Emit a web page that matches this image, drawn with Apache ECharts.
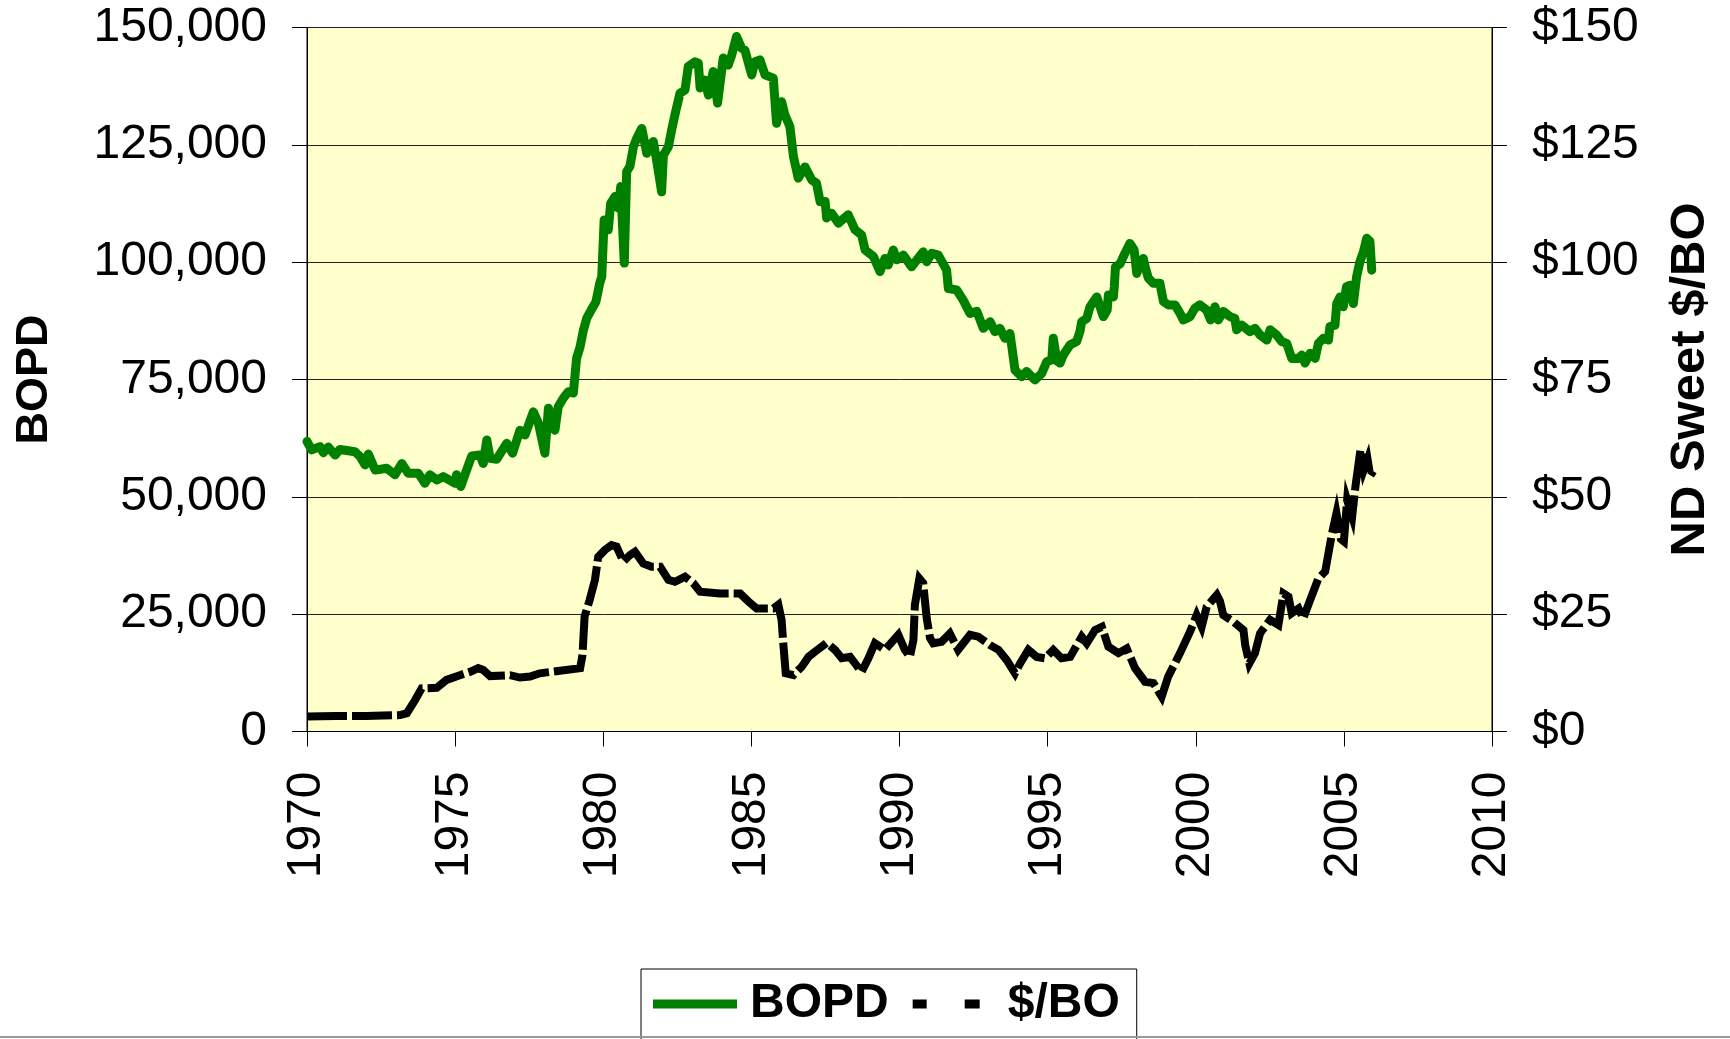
<!DOCTYPE html>
<html>
<head>
<meta charset="utf-8">
<script src="https://cdn.jsdelivr.net/npm/echarts@6/dist/echarts.min.js"></script>
<style>
html,body{margin:0;padding:0;background:#fff;}
#chart{width:1730px;height:1039px;}
</style>
</head>
<body>
<div id="chart"></div>
<script>
// ---- Data ----
var xTicks = [1970, 1975, 1980, 1985, 1990, 1995, 2000, 2005, 2010];

var bopdYears = [1970.00,1970.16,1970.44,1970.55,1970.72,1970.95,1971.11,1971.62,1971.79,1971.96,1972.07,1972.30,1972.69,1972.97,1973.20,1973.42,1973.76,1973.98,1974.15,1974.38,1974.60,1975.00,1975.05,1975.19,1975.33,1975.56,1975.84,1975.95,1976.07,1976.18,1976.40,1976.74,1976.94,1977.19,1977.36,1977.64,1977.81,1978.03,1978.15,1978.37,1978.48,1978.65,1978.82,1978.99,1979.10,1979.22,1979.33,1979.44,1979.61,1979.75,1979.88,1979.95,1980.03,1980.17,1980.25,1980.40,1980.51,1980.59,1980.71,1980.79,1980.90,1981.02,1981.13,1981.30,1981.47,1981.69,1981.80,1981.97,1982.03,1982.20,1982.31,1982.42,1982.59,1982.76,1982.87,1983.10,1983.21,1983.27,1983.43,1983.55,1983.71,1983.86,1984.05,1984.22,1984.34,1984.50,1984.67,1984.78,1985.01,1985.12,1985.29,1985.46,1985.74,1985.85,1986.02,1986.13,1986.30,1986.42,1986.58,1986.81,1987.04,1987.20,1987.32,1987.49,1987.54,1987.71,1987.94,1988.27,1988.50,1988.72,1988.84,1989.12,1989.34,1989.51,1989.62,1989.79,1989.91,1990.13,1990.41,1990.80,1990.92,1991.09,1991.31,1991.59,1991.65,1991.93,1992.15,1992.38,1992.61,1992.83,1993.06,1993.22,1993.39,1993.56,1993.73,1993.90,1994.12,1994.29,1994.57,1994.80,1994.97,1995.14,1995.19,1995.31,1995.42,1995.53,1995.76,1995.98,1996.09,1996.15,1996.32,1996.43,1996.66,1996.77,1996.88,1997.01,1997.05,1997.22,1997.25,1997.29,1997.44,1997.61,1997.78,1997.92,1998.01,1998.12,1998.23,1998.29,1998.40,1998.57,1998.79,1998.91,1999.07,1999.30,1999.47,1999.58,1999.81,1999.97,2000.14,2000.37,2000.50,2000.65,2000.76,2000.93,2001.16,2001.32,2001.38,2001.55,2001.83,2002.00,2002.17,2002.40,2002.51,2002.73,2002.90,2003.07,2003.24,2003.47,2003.58,2003.69,2003.86,2004.03,2004.14,2004.31,2004.48,2004.53,2004.70,2004.76,2004.87,2004.98,2005.09,2005.21,2005.32,2005.43,2005.54,2005.66,2005.77,2005.88,2005.94];
var bopdValues = [61800,60000,60700,59400,60600,58900,60100,59600,58600,56800,59100,55700,56100,54700,57100,55000,55000,52900,54700,53600,54300,52900,54700,52200,54700,58700,58900,57100,62100,58200,58000,61400,59300,64200,63200,68100,65700,59300,68900,64200,69200,71000,72400,72100,79500,82000,85500,88000,90000,91500,95500,96900,109000,106900,112500,114000,111500,116100,99800,119300,120400,124600,126400,128500,123200,125700,121800,115000,122800,124600,128200,131400,136000,136700,141700,142700,142400,137100,138800,135600,140600,133900,143500,142000,144200,148100,145600,145200,139900,142700,143100,139900,139200,129600,134200,131400,128900,122500,117900,120300,117500,116800,112900,112900,109400,110400,108300,110100,106900,105800,102600,101200,98000,100800,99400,102600,100500,101500,99000,102200,100100,101900,101500,98300,94400,94100,91900,89100,89500,85900,87300,85200,85900,83800,84800,77000,75600,76700,74900,76300,78800,79200,83800,79000,78500,80200,82400,83100,85200,87300,88000,90500,92600,90500,88400,89800,93000,92600,94800,99000,99600,101900,104000,102600,97600,99800,100800,99000,96600,95500,95500,91600,90900,90900,89100,87700,88400,90200,90900,89800,87700,90500,87700,89500,88400,88000,85600,86600,85200,85900,84500,83400,85600,84500,83100,82700,79500,79500,80200,78500,80600,79500,82700,83800,83400,86300,86600,91200,92600,90500,94800,95100,91200,96900,100100,102200,105100,104400,98300];

var priceYears = [1970.00,1971.00,1972.00,1973.14,1973.37,1973.65,1973.87,1974.38,1974.71,1975.16,1975.50,1975.78,1975.95,1976.18,1976.85,1977.19,1977.53,1977.86,1979.22,1979.30,1979.37,1979.54,1979.72,1979.83,1980.06,1980.28,1980.45,1980.68,1980.90,1981.07,1981.35,1981.63,1981.92,1982.20,1982.42,1982.76,1983.04,1983.27,1983.94,1984.62,1984.90,1985.18,1985.74,1985.91,1986.02,1986.08,1986.16,1986.42,1986.70,1986.93,1987.15,1987.54,1987.82,1988.05,1988.33,1988.72,1988.95,1989.17,1989.51,1989.96,1990.18,1990.35,1990.47,1990.52,1990.67,1990.80,1990.86,1990.92,1991.03,1991.14,1991.42,1991.70,1991.98,1992.38,1992.66,1993.06,1993.34,1993.62,1993.90,1994.07,1994.35,1994.63,1994.91,1995.19,1995.47,1995.76,1996.15,1996.32,1996.60,1996.83,1997.05,1997.39,1997.67,1997.95,1998.29,1998.57,1998.85,1999.07,1999.47,1999.81,2000.03,2000.20,2000.37,2000.71,2000.82,2000.93,2001.27,2001.61,2001.67,2001.81,2002.00,2002.17,2002.51,2002.79,2002.96,2003.13,2003.24,2003.47,2003.63,2003.86,2004.14,2004.37,2004.48,2004.60,2004.75,2004.90,2005.00,2005.11,2005.28,2005.39,2005.56,2005.67,2005.80,2005.89,2005.99];
var priceValues = [3.2,3.3,3.3,3.5,3.9,6.7,9.2,9.3,11.0,12.0,12.7,13.5,13.1,11.8,12.0,11.5,11.7,12.4,13.5,16.3,24.5,28.0,32.3,37.2,38.7,39.7,39.4,36.2,37.6,38.3,35.8,35.1,35.1,32.3,31.9,33.0,31.6,29.8,29.4,29.4,27.7,26.2,26.2,27.0,23.8,18.5,12.4,12.0,13.8,15.9,17.0,18.9,17.4,15.6,15.9,12.7,15.6,18.8,17.4,20.6,17.4,15.9,19.5,27.0,32.6,31.6,27.7,24.1,19.9,18.8,19.1,20.9,17.4,20.6,20.2,18.4,17.4,15.2,12.4,14.5,17.4,15.9,15.6,17.4,15.6,15.9,20.2,18.8,21.6,22.3,18.1,16.7,17.7,13.5,10.6,10.3,7.4,11.7,16.7,21.3,24.8,22.3,26.6,29.1,27.7,24.8,23.4,21.6,18.4,14.5,16.7,20.9,23.8,22.7,29.4,28.7,25.2,26.2,24.1,28.0,32.6,34.1,38.0,42.2,46.5,41.0,40.5,49.3,45.8,52.2,60.0,55.7,58.0,54.5,55.5];

var seriesNames = ['BOPD', '$/BO'];
var leftTitle = 'BOPD';
var rightTitle = 'ND Sweet $/BO';

function zip(xs, ys) { return xs.map(function (x, i) { return [x, ys[i]]; }); }

var FONT = 'Liberation Sans, Arial, sans-serif';
var chart = echarts.init(document.getElementById('chart'), null, {renderer: 'canvas'});
chart.setOption({
  animation: false,
  backgroundColor: '#ffffff',
  grid: {
    left: 307, right: 238, top: 27.5, height: 704,
    show: true, backgroundColor: '#FFFFCC', borderColor: '#000', borderWidth: 1
  },
  xAxis: {
    type: 'value', min: 1970, max: 2010, interval: 5,
    axisLine: {show: true, onZero: false, lineStyle: {color: '#000', width: 1}},
    axisTick: {show: true, length: 15, inside: false, lineStyle: {color: '#000'}},
    splitLine: {show: false},
    axisLabel: {rotate: 90, margin: 40, color: '#000', fontFamily: FONT, fontSize: 48,
      formatter: function (v) { return String(v); }}
  },
  yAxis: [{
    type: 'value', min: 0, max: 150000, interval: 25000, position: 'left',
    name: leftTitle, nameLocation: 'middle', nameGap: 250, nameRotate: 90,
    nameTextStyle: {color: '#000', fontFamily: FONT, fontSize: 45, fontWeight: 'bold'},
    axisLine: {show: true, lineStyle: {color: '#000', width: 1}},
    axisTick: {show: true, length: 15, inside: false, lineStyle: {color: '#000'}},
    splitLine: {show: true, lineStyle: {color: '#222', width: 1}},
    axisLabel: {margin: 40, color: '#000', fontFamily: FONT, fontSize: 48,
      formatter: function (v) { return v.toLocaleString('en-US'); }}
  }, {
    type: 'value', min: 0, max: 150, interval: 25, position: 'right',
    name: rightTitle, nameLocation: 'middle', nameGap: 174, nameRotate: 90,
    nameTextStyle: {color: '#000', fontFamily: FONT, fontSize: 49, fontWeight: 'bold'},
    axisLine: {show: true, lineStyle: {color: '#000', width: 1}},
    axisTick: {show: true, length: 15, inside: false, lineStyle: {color: '#000'}},
    splitLine: {show: false},
    axisLabel: {margin: 40, color: '#000', fontFamily: FONT, fontSize: 48,
      formatter: function (v) { return '$' + v; }}
  }],
  legend: {
    left: 641, top: 969, orient: 'horizontal',
    itemWidth: 84, itemHeight: 9, itemGap: 22,
    padding: [11, 17, 30, 12],
    borderColor: '#000', borderWidth: 1, backgroundColor: '#fff',
    textStyle: {color: '#000', fontFamily: FONT, fontSize: 48, fontWeight: 'bold', padding: [0, 0, 0, 8]},
    data: [
      {name: seriesNames[0], icon: 'path://M0,0H84V9H0Z', itemStyle: {color: '#008000'}},
      {name: seriesNames[1], icon: 'path://M0,0H0.01V9H0Z M2,0H16V9H2Z M54,0H69V9H54Z M83.99,0H84V9H83.99Z', itemStyle: {color: '#000'}}
    ]
  },
  series: [{
    name: seriesNames[0], type: 'line', yAxisIndex: 0,
    data: zip(bopdYears, bopdValues),
    symbol: 'none', showSymbol: false,
    lineStyle: {color: '#008000', width: 9, join: 'round', cap: 'round'},
    itemStyle: {color: '#008000'}
  }, {
    name: seriesNames[1], type: 'line', yAxisIndex: 1,
    data: zip(priceYears, priceValues),
    symbol: 'none', showSymbol: false,
    lineStyle: {color: '#000', width: 8, type: [40, 5], join: 'miter', cap: 'butt'},
    itemStyle: {color: '#000'}
  }],
  graphic: [{
    type: 'line', z: 100,
    shape: {x1: 0, y1: 1037, x2: 1730, y2: 1037},
    style: {stroke: '#999', lineWidth: 2}
  }]
});
</script>
</body>
</html>
